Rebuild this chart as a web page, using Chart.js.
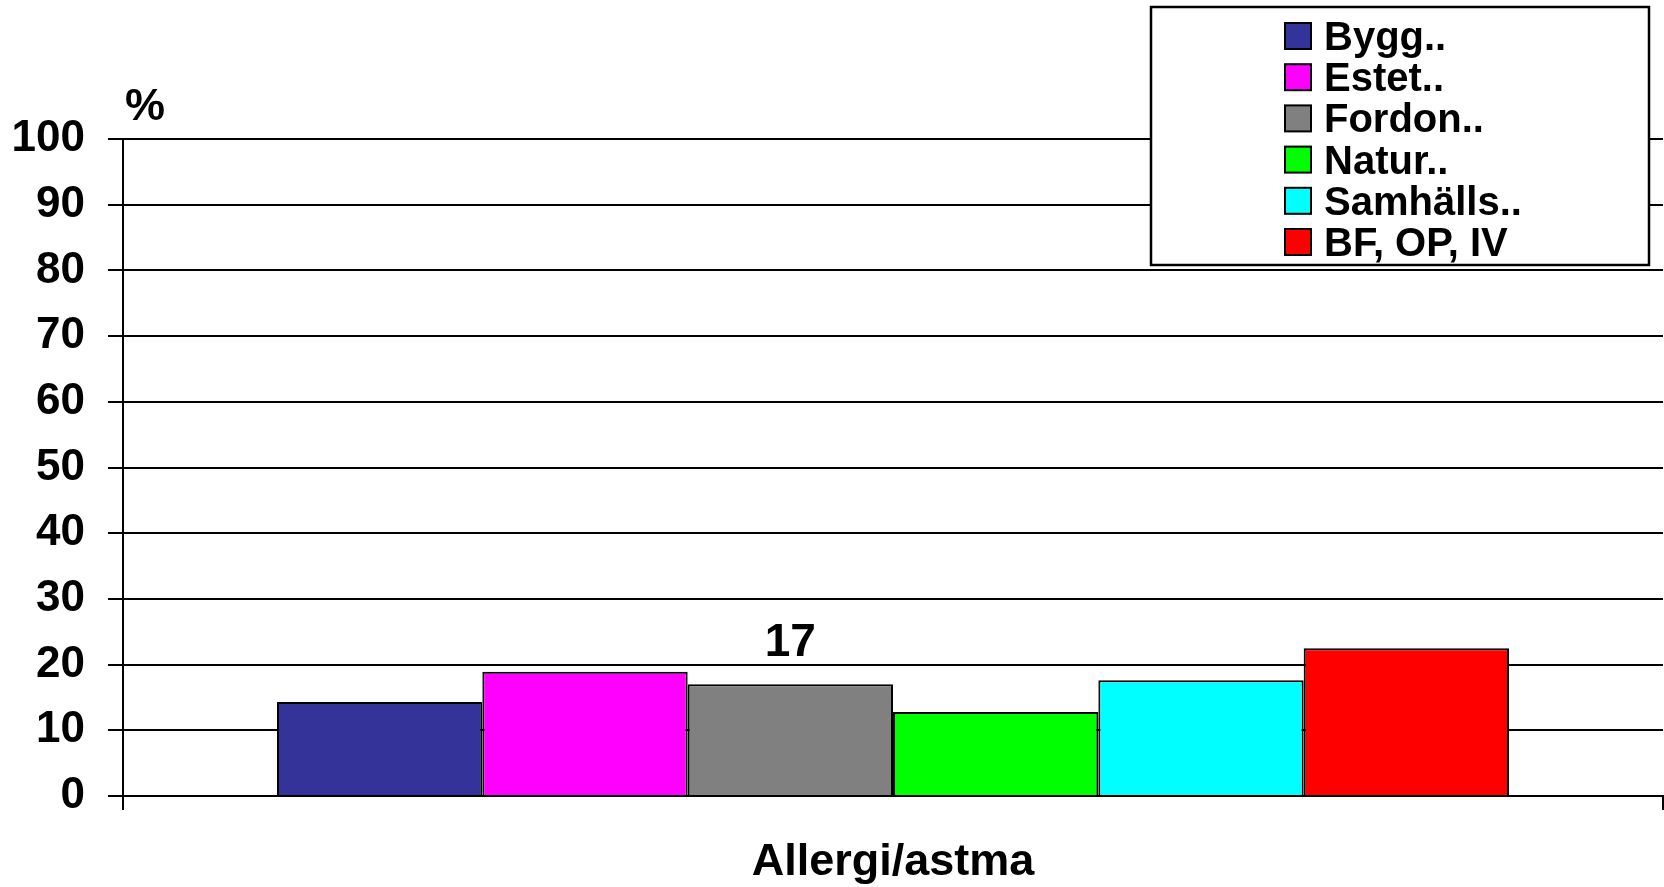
<!DOCTYPE html>
<html>
<head>
<meta charset="utf-8">
<script src="https://cdn.jsdelivr.net/npm/chart.js@4.4.1/dist/chart.umd.min.js"></script>
<style>
  html, body { margin: 0; padding: 0; background: #fff; }
  #wrap { width: 1664px; height: 887px; }
</style>
</head>
<body>
<div id="wrap"><canvas id="myChart"></canvas></div>
<script>
// data
const categories = ['Allergi/astma'];
const seriesNames = ['Bygg..', 'Estet..', 'Fordon..', 'Natur..', 'Samhälls..', 'BF, OP, IV'];
const seriesColors = ['#333399', '#ff00ff', '#808080', '#00ff00', '#00ffff', '#ff0000'];
const byggValues = [14.3];
const estetValues = [18.9];
const fordonValues = [17];
const naturValues = [12.8];
const samhallsValues = [17.6];
const bfValues = [22.5];
const yTicks = [0, 10, 20, 30, 40, 50, 60, 70, 80, 90, 100];
const labelledSeries = 'Fordon..'; // only this bar carries a value label
const axisUnit = '%';

const seriesValues = [byggValues, estetValues, fordonValues, naturValues, samhallsValues, bfValues];
const FONT = "'Liberation Sans', Arial, sans-serif";

// "%" above the y axis
const unitPlugin = {
  id: 'unitLabel',
  afterDraw(chart) {
    const { ctx, chartArea } = chart;
    ctx.save();
    ctx.font = 'bold 45px ' + FONT;
    ctx.fillStyle = '#000';
    ctx.textAlign = 'left';
    ctx.textBaseline = 'alphabetic';
    ctx.fillText(axisUnit, chartArea.left + 2, chartArea.top - 19);
    ctx.restore();
  }
};

// value label above one bar
const valuePlugin = {
  id: 'valueLabel',
  afterDatasetsDraw(chart) {
    const { ctx } = chart;
    chart.data.datasets.forEach((ds, i) => {
      if (ds.label !== labelledSeries) return;
      chart.getDatasetMeta(i).data.forEach((bar, j) => {
        ctx.save();
        ctx.font = 'bold 46px ' + FONT;
        ctx.fillStyle = '#000';
        ctx.textAlign = 'center';
        ctx.textBaseline = 'alphabetic';
        ctx.fillText(String(Math.round(ds.data[j])), bar.x, bar.y - 28);
        ctx.restore();
      });
    });
  }
};

// boxed legend in the top right corner
const boxLegend = {
  id: 'boxLegend',
  afterDraw(chart) {
    const { ctx } = chart;
    const x0 = 1151, y0 = 7, w = 498, h = 258;
    ctx.save();
    ctx.fillStyle = '#fff';
    ctx.fillRect(x0, y0, w, h);
    ctx.strokeStyle = '#000';
    ctx.lineWidth = 2.5;
    ctx.strokeRect(x0, y0, w, h);
    ctx.font = 'bold 40px ' + FONT;
    ctx.textAlign = 'left';
    ctx.textBaseline = 'alphabetic';
    chart.data.datasets.forEach((ds, i) => {
      const top = 23 + i * 41.2;
      ctx.fillStyle = ds.backgroundColor;
      ctx.fillRect(1285, top, 26, 26);
      ctx.lineWidth = 2;
      ctx.strokeStyle = '#000';
      ctx.strokeRect(1285, top, 26, 26);
      ctx.fillStyle = '#000';
      ctx.fillText(ds.label, 1324, top + 27);
    });
    ctx.restore();
  }
};

new Chart(document.getElementById('myChart').getContext('2d'), {
  type: 'bar',
  data: {
    labels: categories,
    datasets: seriesNames.map((name, i) => ({
      label: name,
      data: seriesValues[i],
      backgroundColor: seriesColors[i],
      borderColor: '#000',
      borderWidth: 2,
      categoryPercentage: 0.8,
      barPercentage: 1.0
    }))
  },
  options: {
    responsive: true,
    maintainAspectRatio: false,
    animation: false,
    layout: { padding: { top: 139, right: 1, left: 0, bottom: 0 } },
    plugins: {
      legend: { display: false },
      tooltip: { enabled: false }
    },
    scales: {
      x: {
        offset: true,
        grid: {
          display: true,
          offset: true,
          drawOnChartArea: false,
          drawTicks: true,
          tickLength: 14,
          color: '#000',
          lineWidth: 2
        },
        border: { display: true, color: '#000', width: 2 },
        ticks: {
          color: '#000',
          padding: 26,
          font: { family: FONT, size: 45, weight: 'bold' }
        },
        afterFit(scale) { scale.height = 91; }
      },
      y: {
        min: 0,
        max: 100,
        afterBuildTicks(scale) { scale.ticks = yTicks.map(v => ({ value: v })); },
        grid: {
          color: '#000',
          lineWidth: 2,
          tickLength: 15
        },
        border: { display: true, color: '#000', width: 2 },
        ticks: {
          color: '#000',
          padding: 23,
          font: { family: FONT, size: 44, weight: 'bold' }
        },
        afterFit(scale) { scale.width = 123; }
      }
    }
  },
  plugins: [valuePlugin, unitPlugin, boxLegend]
});
</script>
</body>
</html>
